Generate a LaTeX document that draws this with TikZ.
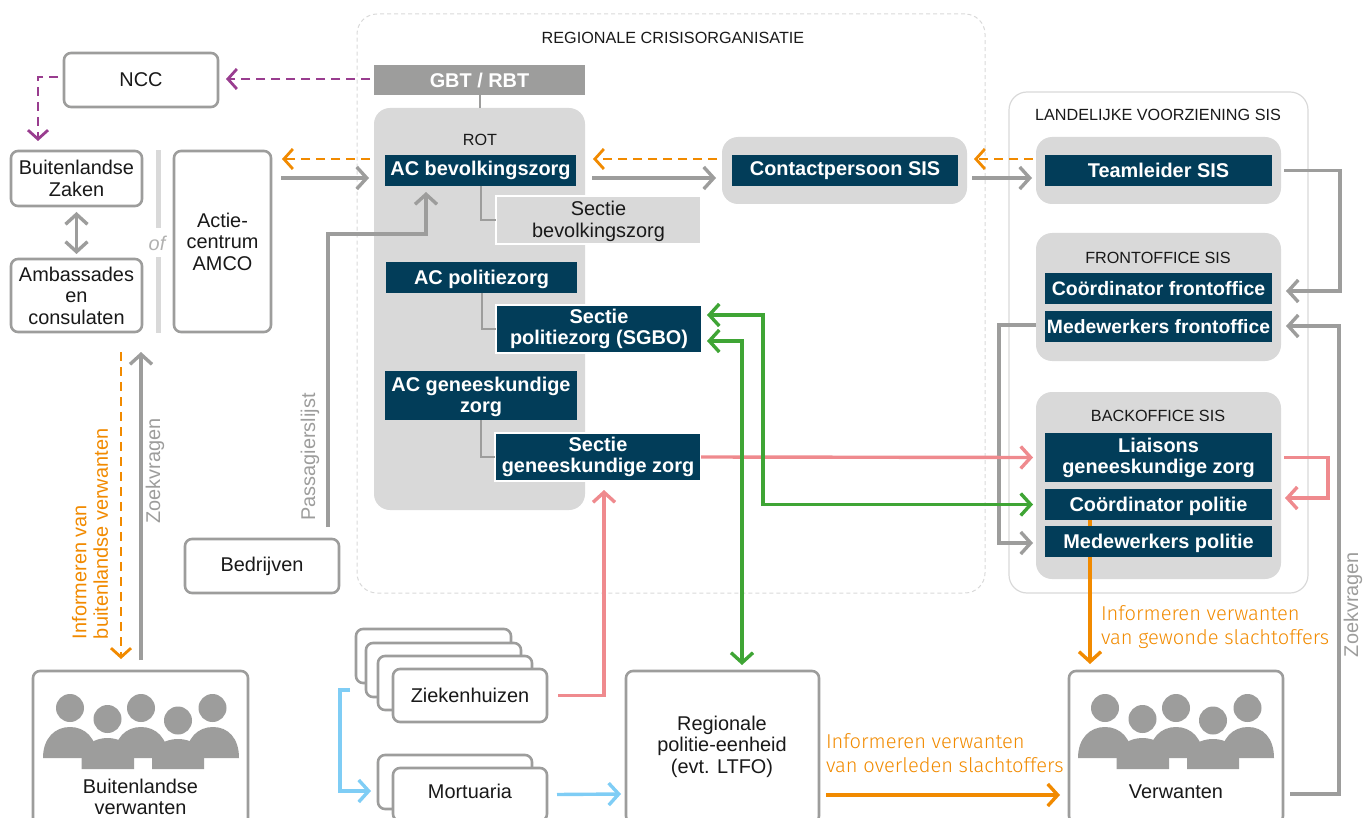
\documentclass[tikz,border=0pt]{standalone}
\usepackage{fontspec}
\setmainfont{Liberation Sans}
\newfontfamily\firaf{Fira Sans Light}
\usetikzlibrary{arrows.meta,calc}
\definecolor{navy}{HTML}{023D59}
\definecolor{lgray}{HTML}{D9D9D9}
\definecolor{mgray}{HTML}{9D9D9C}
\definecolor{oran}{HTML}{F18A00}
\definecolor{purp}{HTML}{993D8F}
\definecolor{gren}{HTML}{3FA535}
\definecolor{pink}{HTML}{EF8A8E}
\definecolor{sky}{HTML}{7FCDF5}
\newcommand\bx[6][]{%
  \pgfmathsetmacro\bw{#5-#3}\pgfmathsetmacro\bh{#6-#4}%
  \pgfmathsetmacro\bcx{(#3+#5)/2}\pgfmathsetmacro\bcy{(#4+#6)/2}%
  \node[minimum width=\bw pt,minimum height=\bh pt,#1] (#2) at (\bcx,\bcy)}
\newcommand\people[1]{%
  \begin{scope}[xshift=#1pt]
   \fill[mgray] (43,758) .. controls (43,738) and (55,727) .. (70,727) .. controls (85,727) and (97,738) .. (97,758) -- cycle;
   \fill[mgray] (114,758) .. controls (114,738) and (126,727) .. (141,727) .. controls (156,727) and (168,738) .. (168,758) -- cycle;
   \fill[mgray] (186,758) .. controls (186,738) and (198,727) .. (213,727) .. controls (228,727) and (239,738) .. (239,758) -- cycle;
   \fill[mgray] (81.5,769) -- (81.5,755) .. controls (84,745) and (95,738) .. (107.5,738) .. controls (120,738) and (131,745) .. (134,755) -- (134,769) -- cycle;
   \fill[mgray] (152,769) -- (152,755) .. controls (155,745) and (166,739) .. (178,739) .. controls (190,739) and (201,745) .. (204,755) -- (204,769) -- cycle;
   \foreach \hx/\hy in {70/708,107.5/719,141/708,178/720.5,212.5/708} \fill[mgray] (\hx,\hy) circle (14);
  \end{scope}}
\tikzset{
  x=1pt,y=-1pt,
  every node/.style={inner sep=0pt,outer sep=0pt,align=center,font=\fontsize{19.9}{21.5}\selectfont,text=black!90},
  wbox/.style={draw=mgray,line width=2.6pt,rounded corners=7pt,fill=white},
  group/.style={fill=lgray,rounded corners=16pt},
  navybox/.style={fill=navy,text=white,font=\fontsize{19.9}{21}\bfseries\selectfont},
  capcentred/.style={text height=14.3pt,text depth=0pt},
  sectbox/.style={draw=white,line width=2.2pt},
  caps/.style={font=\fontsize{16.2}{18}\selectfont},
  conn/.style={line width=3.4pt,-{Straight Barb[length=10pt,width=22pt,line width=3.4pt]}},
  both/.style={line width=3.4pt,{Straight Barb[length=10pt,width=22pt,line width=3.4pt]}-{Straight Barb[length=10pt,width=22pt,line width=3.4pt]}},
  dconn/.style={line width=2.8pt,dash pattern=on 9pt off 6pt,-{Straight Barb[length=9pt,width=20pt,line width=2.8pt]}},
  link/.style={draw=mgray,line width=2pt},
  olabel/.style={text=oran,font=\firaf\fontsize{20.1}{24}\selectfont,align=left},
  olabelv/.style={text=oran,font=\fontsize{19.9}{21.5}\selectfont,align=left},
  glabel/.style={text=mgray,font=\fontsize{19.9}{21.5}\selectfont,align=left},
}
\begin{document}
\begin{tikzpicture}
\useasboundingbox (0,0) rectangle (1365,818);
\clip (0,0) rectangle (1365,818);
% containers
\bx[draw=lgray,line width=1pt,dash pattern=on 4pt off 3pt,rounded corners=20pt]{regio}{357}{14}{985}{593} {};
\bx[draw=lgray,line width=1.2pt,rounded corners=18pt]{land}{1009}{92}{1308}{593} {};
\node (tregio) at (673,38) [caps] {REGIONALE CRISISORGANISATIE};
\node (tland) at (1158,115) [caps] {LANDELIJKE VOORZIENING SIS};
% ROT
\bx[group]{rot}{374}{108}{585}{510} {};
\bx[fill=mgray,text=white,font=\fontsize{19.9}{21}\bfseries\selectfont]{gbt}{374}{65}{585}{95} {GBT / RBT};
\draw[link] (gbt.south) -- (rot.north);
\node (trot) at (480,140) [caps] {ROT};
\bx[navybox]{acbev}{385}{155}{576}{186} {AC bevolkingszorg};
\bx[navybox,capcentred]{acpol}{386}{262}{577}{293} {AC politiezorg};
\bx[navybox]{acgen}{385}{371}{577}{420} {};
\node (tacgen) at (481,397) [text=white,font=\fontsize{19.9}{21}\bfseries\selectfont] {AC geneeskundige\\zorg};
\bx[sectbox,fill=lgray]{secbev}{496}{196}{701}{244} {};
\node (tsecbev) at (598.5,221.5) {Sectie\\bevolkingszorg};
\bx[sectbox,navybox]{secpol}{496}{305}{702}{353} {Sectie\\politiezorg (SGBO)};
\bx[sectbox,navybox]{secgen}{495}{433}{701}{481} {Sectie\\geneeskundige zorg};
\draw[link] (acbev.south) |- (secbev.west);
\draw[link] (acpol.south) |- (secpol.west);
\draw[link] (acgen.south) |- (secgen.west);
% SIS
\bx[group]{gcontact}{722}{137}{967}{204} {};
\bx[navybox]{contact}{732}{155}{958}{186} {Contactpersoon SIS};
\bx[group]{gteam}{1036}{137}{1281}{204} {};
\bx[navybox]{team}{1045}{155}{1272}{186} {Teamleider SIS};
\bx[group]{gfront}{1036}{233}{1281}{361} {};
\node (tfront) at (1158,258) [caps] {FRONTOFFICE SIS};
\bx[navybox,font=\fontsize{19.5}{21}\bfseries\selectfont]{coordf}{1045}{273}{1272}{304} {Coördinator frontoffice};
\bx[navybox,font=\fontsize{19.3}{21}\bfseries\selectfont]{medf}{1045}{311}{1272}{342} {Medewerkers frontoffice};
\bx[group]{gback}{1036}{392}{1281}{579} {};
\node (tback) at (1158,416) [caps] {BACKOFFICE SIS};
\bx[navybox]{liais}{1045}{433}{1272}{482} {Liaisons\\geneeskundige zorg};
\bx[navybox,capcentred]{coordp}{1045}{489}{1272}{520} {Coördinator politie};
\bx[navybox,capcentred]{medp}{1045}{526}{1272}{557} {Medewerkers politie};
% left
\bx[wbox]{ncc}{64}{53}{218}{107} {NCC};
\bx[wbox]{bz}{11}{151}{142}{206} {Buitenlandse\\Zaken};
\bx[wbox]{amb}{11}{259}{142}{332} {Ambassades\\en\\consulaten};
\bx[wbox]{amco}{174}{151}{271}{332} {Actie-\\centrum\\AMCO};
\bx[fill=lgray]{bara}{155.5}{150}{160.5}{228} {};
\bx[fill=lgray]{barb}{155.5}{257}{160.5}{333} {};
\node (of) at (157,243) [text=mgray!80,font=\fontsize{19.9}{21}\itshape\selectfont] {of};
\bx[wbox]{bedr}{185}{539}{339}{593} {Bedrijven};
% bottom
\bx[wbox]{bv}{33}{671}{248}{830} {};
\people{0}
\node (tbv) at (140.5,797) {Buitenlandse\\verwanten};
\bx[wbox]{zb1}{356}{629}{511}{683} {};
\bx[wbox]{zb2}{366}{643}{521}{697} {};
\bx[wbox]{zb3}{378}{656}{532}{710} {};
\bx[wbox]{zk}{393}{669}{547}{722} {Ziekenhuizen};
\bx[wbox]{mb}{378}{755}{532}{809} {};
\bx[wbox]{mo}{393}{768}{547}{821} {};
\node (tmo) at (470,791.5) {Mortuaria};
\bx[wbox]{reg}{626}{671}{819}{823} {};
\node (treg) at (722,746.5) {Regionale\\politie-eenheid\\(evt. LTFO)};
\bx[wbox]{verw}{1069}{671}{1283}{823} {};
\people{1035}
\node (tverw) at (1176,791.5) {Verwanten};
% purple
\draw[dconn,draw=purp] ([xshift=-4pt,yshift=1pt]gbt.west) -- ([xshift=8pt,yshift=1pt]ncc.east);
\draw[dconn,draw=purp] ([xshift=-6pt,yshift=3pt]ncc.west) -| ([xshift=-38.5pt,yshift=10pt]bz.north);
% row arrows
\draw[dconn,draw=oran] ([xshift=-15pt,yshift=11.5pt]acbev.west) -- ([xshift=11pt,yshift=82.5pt]amco.east);
\draw[conn,draw=mgray] ([xshift=10pt,yshift=63.5pt]amco.east) -- ([xshift=-16pt,yshift=-7.5pt]acbev.west);
\draw[conn,draw=mgray] ([xshift=16pt,yshift=-7.5pt]acbev.east) -- ([xshift=-6pt,yshift=-7.5pt]gcontact.west);
\draw[dconn,draw=oran] ([xshift=-5pt,yshift=11.5pt]gcontact.west) -- ([xshift=17pt,yshift=11.5pt]acbev.east);
\draw[conn,draw=mgray] ([xshift=5pt,yshift=-7.5pt]gcontact.east) -- ([xshift=-4pt,yshift=-7.5pt]gteam.west);
\draw[dconn,draw=oran] ([xshift=-3pt,yshift=11.5pt]gteam.west) -- ([xshift=7pt,yshift=11.5pt]gcontact.east);
% SIS gray
\draw[conn,draw=mgray] ([xshift=3pt]gteam.east) -- ++(56,0) |- ([xshift=5pt,yshift=6pt]gfront.east);
\draw[conn,draw=mgray] ([xshift=7pt,yshift=-47pt]verw.east) -- ++(49,0) |- ([xshift=5pt,yshift=-29pt]gfront.east);
\draw[conn,draw=mgray] ([yshift=-28pt]gfront.west) -- ++(-37,0) |- ([xshift=-3pt,yshift=-57.5pt]gback.west);
\draw[both,draw=mgray,shorten <=6pt,shorten >=5pt] (bz.south) -- (amb.north);
% pink
\draw[conn,draw=pink] (secgen.east) -- ([xshift=-12pt]liais.west);
\draw[conn,draw=pink] ([xshift=12pt]liais.east) -- ++(44,0) |- ([xshift=13pt,yshift=6.5pt]coordp.east);
\draw[conn,draw=pink] ([xshift=11pt]zk.east) -| ([xshift=6pt,yshift=-9pt]secgen.south);
% green
\draw[both,draw=gren] ([xshift=5pt,yshift=14pt]secpol.east) -- ++(56,0) |- ([xshift=-12pt]coordp.west);
\draw[both,draw=gren] ([xshift=5pt,yshift=-12pt]secpol.east) -| ([xshift=19.5pt,yshift=6pt]reg.north);
% orange solid
\draw[line width=3.4pt,draw=oran] ([xshift=-68.5pt]coordp.south) -- ([xshift=-68.5pt]medp.north);
\draw[conn,draw=oran] ([xshift=-68.5pt]medp.south) -- ([xshift=-86pt,yshift=7pt]verw.north);
\draw[conn,draw=oran] ([xshift=7pt,yshift=-48pt]reg.east) -- ([xshift=-9pt,yshift=-48pt]verw.west);
% left vertical
\draw[dconn,draw=oran] ([xshift=44.5pt,yshift=-20pt]amb.south) -- ([xshift=-19.5pt,yshift=12pt]bv.north);
\draw[conn,draw=mgray] ([xshift=0.5pt,yshift=11pt]bv.north) -- ([xshift=64.5pt,yshift=-20pt]amb.south);
\draw[conn,draw=mgray] ([xshift=66pt,yshift=12pt]bedr.north) -- ++(0,-293) -| ([xshift=-54.5pt,yshift=-6pt]acbev.south);
% blue
\draw[conn,draw=sky] ([xshift=-6pt,yshift=-7pt]zb1.south west |- zb3.west) -- ++(-10,0) |- ([xshift=-7pt,yshift=-9pt]mb.west);
\draw[conn,draw=sky] ([xshift=10pt]mo.east) -- ([xshift=-5pt,yshift=-47pt]reg.west);
% labels
\node (lzoek1) at (155,471) [glabel,rotate=90] {Zoekvragen};
\node (lzoek2) at (1353,604.5) [glabel,rotate=90] {Zoekvragen};
\node (lpass) at (310,457) [glabel,rotate=90] {Passagierslijst};
\node (lbui) [olabelv,rotate=90,anchor=north west] at (72,639) {Informeren van\\buitenlandse verwanten};
\node (lgew) [olabel,anchor=west] at (1101,627) {Informeren verwanten\\van gewonde slachtoffers};
\node (love) [olabel,anchor=west] at (826,753) {Informeren verwanten\\van overleden slachtoffers};
\end{tikzpicture}
\end{document}
